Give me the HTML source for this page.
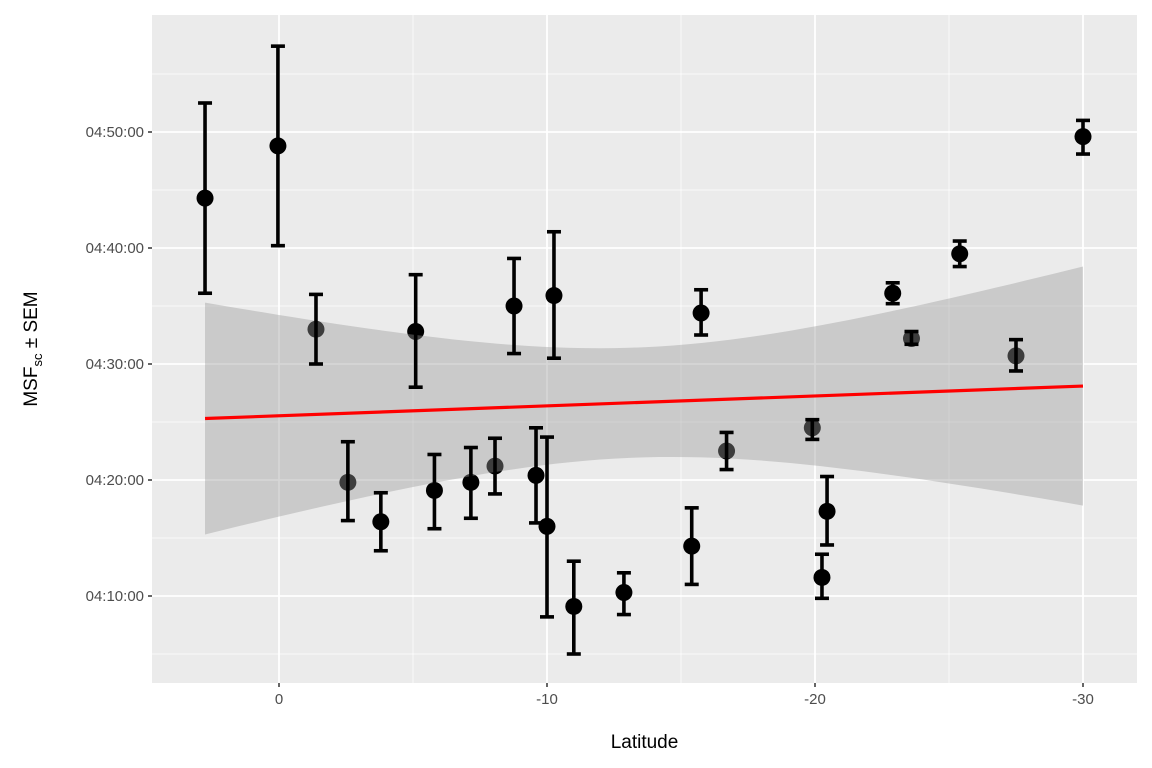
<!DOCTYPE html>
<html><head><meta charset="utf-8"><style>
body{margin:0;background:#fff;}
svg{display:block;font-family:"Liberation Sans",Arial,sans-serif;}
</style></head><body>
<svg id="chart" width="1152" height="768"></svg>
<script>
const latitudes=[2.76,0.04,-1.38,-2.57,-3.8,-5.1,-5.8,-7.16,-8.06,-8.77,-9.59,-10.0,-10.26,-11.0,-12.87,-15.4,-15.75,-16.7,-19.9,-20.26,-20.45,-22.9,-23.6,-25.4,-27.5,-30.0];
const msfMinutes=[44.3,48.8,33.0,19.8,16.4,32.8,19.1,19.8,21.2,35.0,20.4,16.0,35.9,9.1,10.3,14.3,34.4,22.5,24.5,11.6,17.3,36.1,32.2,39.5,30.7,49.6];
const semUpper=[52.5,57.4,36.0,23.3,18.9,37.7,22.2,22.8,23.6,39.1,24.5,23.7,41.4,13.0,12.0,17.6,36.4,24.1,25.2,13.6,20.3,37.0,32.8,40.6,32.1,51.0];
const semLower=[36.1,40.2,30.0,16.5,13.9,28.0,15.8,16.7,18.8,30.9,16.3,8.2,30.5,5.0,8.4,11.0,32.5,20.9,23.5,9.8,14.4,35.2,31.7,38.4,29.4,48.1];
const fitEnds=[25.3,28.1];
const bandParams=[22.5,0.3,-13.3];
const xTicks=[0,-10,-20,-30];
const xTickLabels=["0","-10","-20","-30"];
const yTicks=[10,20,30,40,50];
const yTickLabels=["04:10:00","04:20:00","04:30:00","04:40:00","04:50:00"];

const NS="http://www.w3.org/2000/svg";
const svg=document.getElementById('chart');
const L=152,R=1137,T=15,B=683;
const X=v=>279+(0-v)*26.8;
const Y=m=>596-(m-10)*11.6;
function mk(tag,attrs,parent){const e=document.createElementNS(NS,tag);for(const k in attrs)e.setAttribute(k,attrs[k]);(parent||svg).appendChild(e);return e;}

const panel=mk('rect',{x:L,y:T,width:R-L,height:B-T,fill:'#EBEBEB'});


for(let v=5;v>=-35;v-=10){const x=X(v);if(x<L||x>R)continue;const g=mk('line',{x1:x,x2:x,y1:T,y2:B,stroke:'#fff','stroke-width':0.7});}
for(let m=5;m<=60;m+=10){const y=Y(m);if(y<T||y>B)continue;const g=mk('line',{x1:L,x2:R,y1:y,y2:y,stroke:'#fff','stroke-width':0.7});}
xTicks.forEach((v,i)=>{const x=X(v);const g=mk('line',{x1:x,x2:x,y1:T,y2:B,stroke:'#fff','stroke-width':1.8});
 const t=mk('line',{x1:x,x2:x,y1:B,y2:B+4,stroke:'#333','stroke-width':1.5});
 const tx=mk('text',{x:x,y:B+21,'text-anchor':'middle','font-size':15,fill:'#4D4D4D'});tx.textContent=xTickLabels[i];});
yTicks.forEach((m,i)=>{const y=Y(m);const g=mk('line',{x1:L,x2:R,y1:y,y2:y,stroke:'#fff','stroke-width':1.8});
 const t=mk('line',{x1:L-4,x2:L,y1:y,y2:y,stroke:'#333','stroke-width':1.5});
 const tx=mk('text',{x:L-8,y:y+5,'text-anchor':'end','font-size':15,fill:'#4D4D4D'});tx.textContent=yTickLabels[i];});

// points first
latitudes.forEach((v,i)=>{const c=mk('circle',{cx:X(v),cy:Y(msfMinutes[i]),r:8.5,fill:'#000'});
 
 });

// ribbon over points
const x0=latitudes[0],x1=latitudes[latitudes.length-1];
const fit=v=>fitEnds[0]+(fitEnds[1]-fitEnds[0])*(v-x0)/(x1-x0);
const hw=v=>Math.sqrt(bandParams[0]+bandParams[1]*(v-bandParams[2])**2);
let up=[],dn=[];
for(let i=0;i<=60;i++){const v=x0+(x1-x0)*i/60;up.push(X(v)+','+Y(fit(v)+hw(v)));dn.unshift(X(v)+','+Y(fit(v)-hw(v)));}
const rib=mk('polygon',{points:up.concat(dn).join(' '),fill:'#999','fill-opacity':0.4});



// error bars over ribbon
latitudes.forEach((v,i)=>{const x=X(v);const g=mk('g',{});
 
 
 mk('line',{x1:x,x2:x,y1:Y(semUpper[i]),y2:Y(semLower[i]),stroke:'#000','stroke-width':3.6},g);
 mk('line',{x1:x-7,x2:x+7,y1:Y(semUpper[i]),y2:Y(semUpper[i]),stroke:'#000','stroke-width':3.6},g);
 mk('line',{x1:x-7,x2:x+7,y1:Y(semLower[i]),y2:Y(semLower[i]),stroke:'#000','stroke-width':3.6},g);});

const fl=mk('line',{x1:X(x0),y1:Y(fitEnds[0]),x2:X(x1),y2:Y(fitEnds[1]),stroke:'#FF0000','stroke-width':3.2});



const xt=mk('text',{x:(L+R)/2,y:748,'text-anchor':'middle','font-size':19,fill:'#000'});xt.textContent='Latitude';


const yt=mk('text',{transform:'translate(37,349) rotate(-90)','text-anchor':'middle','font-size':19,fill:'#000'});


yt.innerHTML='MSF<tspan font-size="13" dy="5">sc</tspan><tspan dy="-5"> ± SEM</tspan>';
</script>
</body></html>
